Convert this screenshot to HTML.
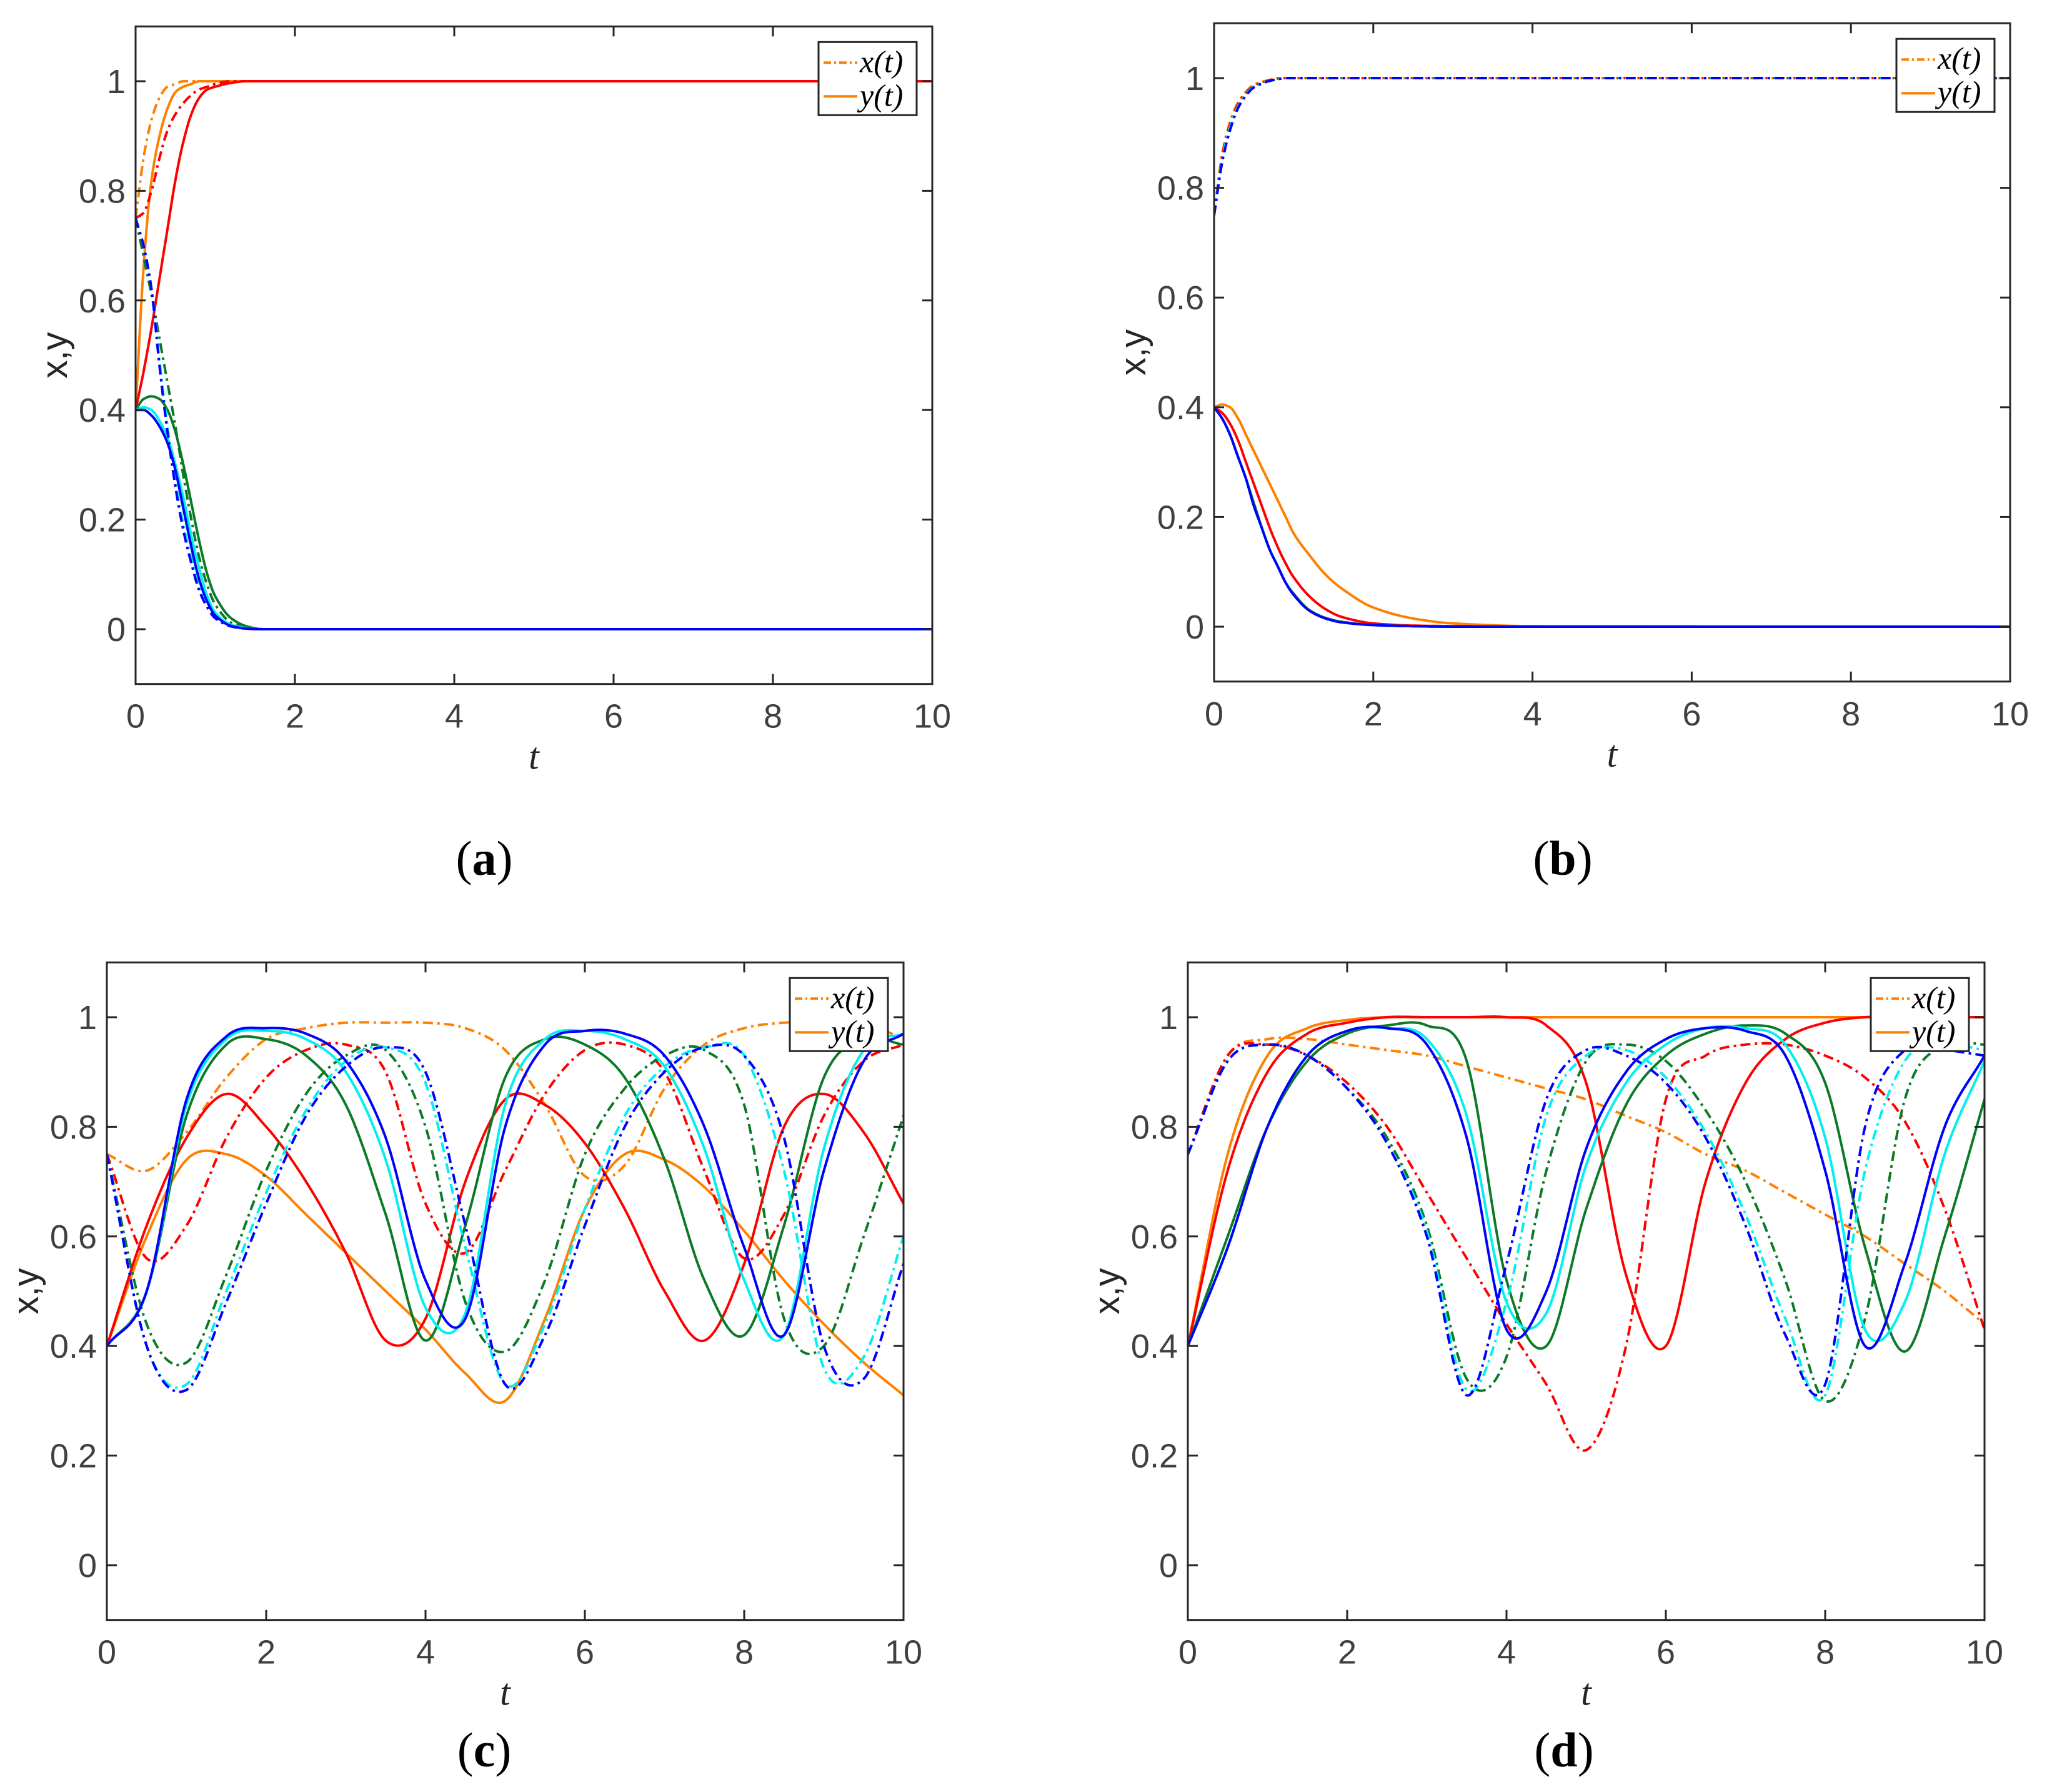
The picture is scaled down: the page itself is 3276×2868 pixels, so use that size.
<!DOCTYPE html>
<html><head><meta charset="utf-8"><style>
html,body{margin:0;padding:0;background:#fff;}
svg{display:block;}
</style></head><body>
<svg id="fig" xmlns="http://www.w3.org/2000/svg" width="3276" height="2868" viewBox="0 0 3276 2868">
<rect width="3276" height="2868" fill="#fff"/>
</svg>
<script>
// ---------- data ----------
const tA = [0,0.1,0.2,0.3,0.4,0.5,0.6,0.7,0.8,0.9,1.0,1.2,1.4,1.6,2,3,10];
const aOrangeX=[.75,.86,.93,.97,.99,.995,1,1,1,1,1,1,1,1,1,1,1];
const aOrangeY=[.40,.66,.82,.90,.95,.98,.99,.995,1,1,1,1,1,1,1,1,1];
const aRedX=[.75,.76,.80,.86,.91,.94,.96,.975,.985,.99,.995,1,1,1,1,1,1];
const aRedY=[.40,.47,.55,.64,.73,.82,.89,.94,.97,.985,.99,.997,1,1,1,1,1];
const aGreenX=[.75,.68,.61,.53,.45,.37,.28,.20,.13,.08,.045,.012,.003,0,0,0,0];
const aGreenY=[.40,.42,.425,.42,.40,.36,.30,.23,.16,.10,.06,.02,.005,0,0,0,0];
const aCyanX=[.75,.70,.62,.49,.37,.27,.19,.13,.08,.05,.025,.006,.001,0,0,0,0];
const aCyanY=[.40,.405,.40,.38,.35,.30,.24,.17,.11,.06,.03,.008,.002,0,0,0,0];
const aBlueX=[.75,.70,.62,.48,.36,.26,.18,.12,.07,.04,.02,.005,.001,0,0,0,0];
const aBlueY=[.40,.40,.39,.37,.34,.29,.22,.15,.09,.05,.025,.006,.001,0,0,0,0];

const tB = [0,0.1,0.2,0.3,0.4,0.5,0.6,0.7,0.8,0.9,1.0,1.2,1.4,1.6,2,2.5,3,4,10];
const bOrangeX=[.75,.86,.92,.955,.975,.988,.993,.997,1,1,1,1,1,1,1,1,1,1,1];
const bOrangeY=[.40,.405,.40,.38,.35,.32,.29,.26,.23,.20,.17,.13,.095,.07,.035,.015,.006,.001,0];
const bRedX=[.75,.855,.915,.952,.973,.986,.992,.996,.999,1,1,1,1,1,1,1,1,1,1];
const bRedY=[.40,.39,.37,.34,.30,.26,.22,.18,.145,.115,.09,.055,.032,.018,.006,.002,.001,0,0];
const bGreenX=[.75,.85,.91,.948,.97,.984,.991,.995,.998,1,1,1,1,1,1,1,1,1,1];
const bGreenY=[.40,.38,.35,.31,.27,.225,.18,.14,.11,.08,.06,.03,.016,.009,.003,.001,0,0,0];
const bCyanX=[.75,.85,.91,.948,.97,.984,.991,.995,.998,1,1,1,1,1,1,1,1,1,1];
const bCyanY=[.40,.38,.35,.31,.27,.22,.18,.14,.11,.08,.058,.029,.015,.008,.003,.001,0,0,0];
const bBlueX=[.75,.845,.905,.945,.968,.983,.99,.995,.998,1,1,1,1,1,1,1,1,1,1];
const bBlueY=[.40,.38,.35,.31,.27,.22,.18,.14,.11,.08,.058,.029,.015,.008,.003,.001,0,0,0];

const tC = [0,0.5,1,1.5,2,2.5,3,3.5,4,4.5,5,5.5,6,6.5,7,7.5,8,8.5,9,9.5,10];
const cOrangeX=[.75,.72,.79,.89,.96,.98,.99,.99,.99,.98,.94,.84,.71,.73,.87,.95,.98,.99,.99,.99,.96];
const cOrangeY=[.40,.60,.74,.75,.71,.64,.57,.50,.43,.35,.30,.45,.65,.75,.74,.69,.61,.52,.44,.37,.31];
const cRedX=[.75,.56,.62,.78,.89,.94,.95,.90,.66,.57,.72,.86,.94,.95,.90,.72,.56,.64,.82,.92,.95];
const cRedY=[.40,.62,.78,.86,.80,.70,.57,.41,.45,.70,.85,.84,.77,.65,.50,.41,.55,.80,.86,.79,.66];
const cGreenX=[.75,.44,.37,.53,.72,.86,.93,.94,.80,.48,.39,.52,.75,.87,.93,.94,.84,.45,.40,.60,.82];
const cGreenY=[.40,.50,.82,.95,.96,.93,.84,.64,.41,.62,.89,.96,.95,.89,.74,.52,.42,.62,.89,.96,.95];
const cCyanX=[.75,.40,.33,.50,.68,.83,.92,.945,.88,.58,.33,.44,.65,.82,.91,.945,.93,.72,.36,.38,.60];
const cCyanY=[.40,.50,.84,.96,.975,.96,.90,.74,.47,.46,.84,.96,.975,.96,.91,.76,.52,.42,.76,.94,.97];
const cBlueX=[.75,.40,.32,.48,.66,.82,.91,.945,.90,.62,.33,.42,.62,.80,.90,.945,.93,.78,.40,.34,.55];
const cBlueY=[.40,.50,.85,.965,.98,.97,.92,.78,.52,.45,.80,.95,.975,.97,.93,.80,.58,.42,.72,.92,.97];

const tD = [0,0.5,1,1.5,2,2.5,3,3.5,4,4.5,5,5.5,6,6.5,7,7.5,8,8.5,9,9.5,10];
const dOrangeX=[.75,.93,.96,.96,.95,.94,.93,.91,.89,.87,.85,.82,.79,.75,.72,.68,.64,.60,.55,.50,.44];
const dOrangeY=[.40,.75,.93,.98,.995,1,1,1,1,1,1,1,1,1,1,1,1,1,1,1,1];
const dRedX=[.75,.93,.95,.93,.88,.80,.68,.56,.44,.33,.21,.40,.85,.93,.95,.95,.93,.89,.81,.65,.43];
const dRedY=[.40,.72,.90,.97,.99,1,1,1,1,.985,.88,.53,.40,.70,.88,.96,.99,1,1,1,1];
const dGreenX=[.75,.92,.95,.93,.87,.78,.62,.34,.38,.72,.92,.95,.92,.83,.70,.52,.30,.45,.85,.95,.95];
const dGreenY=[.40,.60,.80,.92,.97,.985,.985,.92,.52,.40,.65,.84,.93,.97,.985,.97,.88,.58,.39,.60,.85];
const dCyanX=[.75,.92,.95,.93,.87,.77,.61,.32,.48,.82,.93,.94,.89,.79,.64,.45,.31,.72,.92,.95,.94];
const dCyanY=[.40,.58,.80,.93,.975,.98,.96,.82,.48,.46,.73,.88,.95,.98,.98,.95,.78,.43,.48,.75,.92];
const dBlueX=[.75,.92,.95,.93,.87,.77,.60,.31,.55,.85,.94,.93,.88,.78,.62,.42,.33,.80,.94,.94,.93];
const dBlueY=[.40,.58,.80,.93,.975,.98,.95,.78,.43,.50,.76,.90,.96,.98,.975,.93,.72,.40,.55,.80,.93];

const xTicks=[0,2,4,6,8,10];
const yTicks=[0,0.2,0.4,0.6,0.8,1];
const yTickLabels=["0","0.2","0.4","0.6","0.8","1"];
const seriesNames=["orange","red","green","cyan","blue"];

// ---------- layout ----------
const NS="http://www.w3.org/2000/svg";
const svg=document.getElementById('fig');
const colors={orange:"#FF8000",red:"#FF0000",green:"#0B7A26",cyan:"#00F0F0",blue:"#0000FF"};
const panels=[
 {id:"a",mono:true,x0:217,x10:1492,y0:1007,y1:130,lab:[775,1400],t:tA,d:[aOrangeX,aOrangeY,aRedX,aRedY,aGreenX,aGreenY,aCyanX,aCyanY,aBlueX,aBlueY]},
 {id:"b",mono:true,x0:1943,x10:3217,y0:1003,y1:125,lab:[2501,1400],t:tB,d:[bOrangeX,bOrangeY,bRedX,bRedY,bGreenX,bGreenY,bCyanX,bCyanY,bBlueX,bBlueY]},
 {id:"c",mono:false,x0:171,x10:1446,y0:2505,y1:1628,lab:[775,2827],t:tC,d:[cOrangeX,cOrangeY,cRedX,cRedY,cGreenX,cGreenY,cCyanX,cCyanY,cBlueX,cBlueY]},
 {id:"d",mono:false,x0:1901,x10:3176,y0:2505,y1:1628,lab:[2503,2827],t:tD,d:[dOrangeX,dOrangeY,dRedX,dRedY,dGreenX,dGreenY,dCyanX,dCyanY,dBlueX,dBlueY]}
];
function el(tag,attrs,parent){const e=document.createElementNS(NS,tag);for(const k in attrs)e.setAttribute(k,attrs[k]);(parent||svg).appendChild(e);return e;}
// Hermite interpolation sampled densely
function interp(ts,vs,mono){
  const n=ts.length,m=new Array(n),del=[];
  for(let i=0;i<n-1;i++)del.push((vs[i+1]-vs[i])/(ts[i+1]-ts[i]));
  for(let i=0;i<n;i++){
    if(i===0)m[i]=del[0];else if(i===n-1)m[i]=del[n-2];
    else if(mono){ m[i]=(del[i-1]*del[i]<=0)?0:(2/(1/del[i-1]+1/del[i])); }
    else m[i]=(vs[i+1]-vs[i-1])/(ts[i+1]-ts[i-1]);
  }
  if(mono){ if(del[0]*m[0]<0)m[0]=0; }
  const out=[];
  for(let i=0;i<n-1;i++){
    const h=ts[i+1]-ts[i],N=Math.max(4,Math.ceil(h*80));
    for(let j=0;j<N;j++){
      const s=j/N,s2=s*s,s3=s2*s;
      const v=(2*s3-3*s2+1)*vs[i]+(s3-2*s2+s)*h*m[i]+(-2*s3+3*s2)*vs[i+1]+(s3-s2)*h*m[i+1];
      out.push([ts[i]+s*h,v]);
    }
  }
  out.push([ts[n-1],vs[n-1]]);
  return out;
}
panels.forEach(P=>{
  const X=t=>P.x0+(P.x10-P.x0)*t/10;
  const Y=v=>P.y0-(P.y0-P.y1)*v;
  const top=Y(1.1),bot=Y(-0.1);
  const g=el('g',{});
  
  
  const cp=el('clipPath',{id:'clip'+P.id},g);
  el('rect',{x:P.x0,y:top,width:P.x10-P.x0,height:bot-top},cp);
  const lines=el('g',{'clip-path':'url(#clip'+P.id+')'},g);
  for(let s=0;s<5;s++){
    for(let k=0;k<2;k++){
      const arr=P.d[s*2+k];
      const pts=interp(P.t,arr,P.mono).map(p=>[X(p[0]),Y(p[1])]);
      const d='M'+pts.map(p=>p[0].toFixed(1)+','+p[1].toFixed(1)).join(' L');
      const p=el('path',{d:d,fill:'none',stroke:colors[seriesNames[s]],'stroke-width':4,'stroke-linejoin':'round'},lines);
      if(k===0)p.setAttribute('stroke-dasharray','16 7 4 7');
      
      
    }
  }
  const box=el('rect',{x:P.x0,y:top,width:P.x10-P.x0,height:bot-top,fill:'none',stroke:'#262626','stroke-width':3},g);
  
  
  xTicks.forEach(t=>{
    el('line',{x1:X(t),x2:X(t),y1:bot,y2:bot-16,stroke:'#262626','stroke-width':3},g);
    el('line',{x1:X(t),x2:X(t),y1:top,y2:top+16,stroke:'#262626','stroke-width':3},g);
    const tx=el('text',{x:X(t),y:bot+70,'text-anchor':'middle','font-family':'Liberation Sans, sans-serif','font-size':54,fill:'#404040'},g);
    tx.textContent=String(t);
    
    
  });
  yTicks.forEach((v,i)=>{
    el('line',{x1:P.x0,x2:P.x0+16,y1:Y(v),y2:Y(v),stroke:'#262626','stroke-width':3},g);
    el('line',{x1:P.x10,x2:P.x10-16,y1:Y(v),y2:Y(v),stroke:'#262626','stroke-width':3},g);
    const ty=el('text',{x:P.x0-16,y:Y(v)+19,'text-anchor':'end','font-family':'Liberation Sans, sans-serif','font-size':54,fill:'#404040'},g);
    ty.textContent=yTickLabels[i];
    
    
  });
  const xt=el('text',{x:(P.x0+P.x10)/2,y:bot+136,'text-anchor':'middle','font-family':'Liberation Serif, serif','font-style':'italic','font-size':60,fill:'#262626'},g);
  xt.textContent='t';
  
  
  const yx=P.x0-110, yy=(top+bot)/2;
  const yt=el('text',{x:yx,y:yy,'text-anchor':'middle','font-family':'Liberation Sans, sans-serif','font-size':58,fill:'#262626',transform:'rotate(-90 '+yx+' '+yy+')'},g);
  yt.textContent='x,y';
  
  
  const lx=P.x10-25-157, ly=top+25;
  const lg=el('g',{},g);
  
  
  el('rect',{x:lx,y:ly,width:157,height:117,fill:'#fff',stroke:'#262626','stroke-width':3},lg);
  [['x(t)',true],['y(t)',false]].forEach((e,i)=>{
    const cy=ly+33+i*54;
    const ln=el('line',{x1:lx+8,x2:lx+62,y1:cy,y2:cy,stroke:colors.orange,'stroke-width':4},lg);
    if(e[1])ln.setAttribute('stroke-dasharray','12 5 3 5');
    const lt=el('text',{x:lx+66,y:cy+15,'font-family':'Liberation Serif, serif','font-style':'italic','font-size':50,fill:'#000'},lg);
    lt.textContent=e[0];
    
    
  });
  const pl=el('text',{x:P.lab[0],y:P.lab[1],'text-anchor':'middle','font-family':'Liberation Serif, serif','font-size':78,fill:'#000'},g);
  pl.innerHTML='(<tspan font-weight="bold">'+P.id+'</tspan>)';
  
  
});
</script>
</body></html>
